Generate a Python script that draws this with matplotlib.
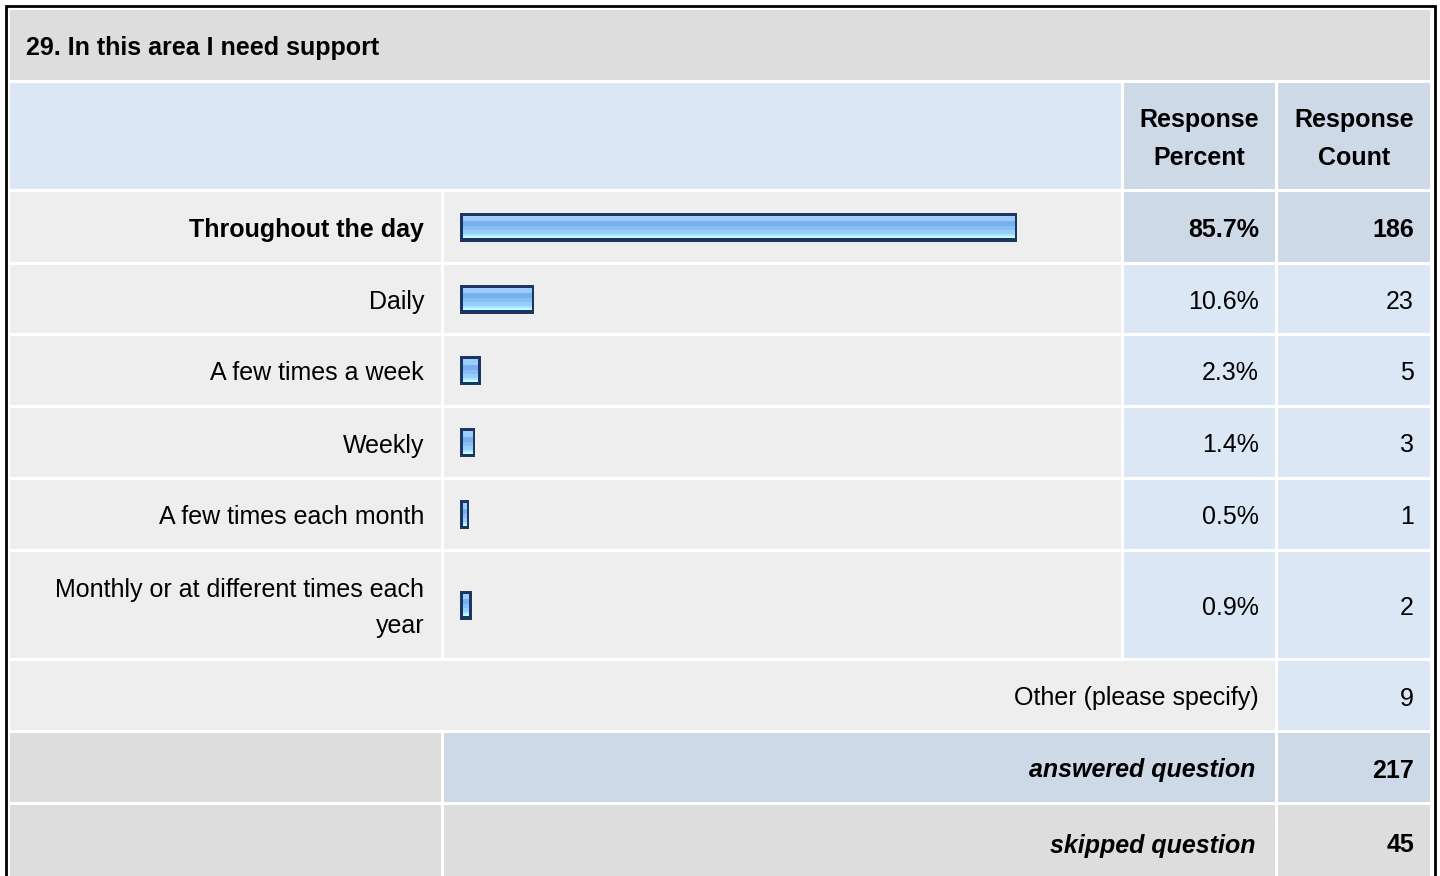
import numpy as np
import matplotlib.pyplot as plt
from matplotlib.patches import Rectangle
from matplotlib.colors import to_rgb

plt.rcParams['font.family'] = ['Liberation Sans', 'DejaVu Sans']

title = "29. In this area I need support"
options = ["Throughout the day", "Daily", "A few times a week", "Weekly",
           "A few times each month", "Monthly or at different times each\nyear"]
percents = [85.7, 10.6, 2.3, 1.4, 0.5, 0.9]
counts = [186, 23, 5, 3, 1, 2]
other_label = "Other (please specify)"
other_count = 9
answered = 217
skipped = 45

# table geometry in pixels
W, H = 1440, 876
cols = [(10, 441), (444, 1121), (1124, 1275), (1278, 1430)]
title_row = (10, 80)
head_row = (83, 189)
option_rows = [(192, 262), (265, 333), (336, 405), (408, 477), (480, 549), (552, 658)]
other_row = (661, 730)
answered_row = (733, 802)
skipped_row = (805, 880)

GREY = '#dddddd'
LIGHT = '#eeeeee'
PALE_BLUE = '#dce7f5'
DARK_BLUE = '#cdd9e6'
NAVY = '#1c3560'
FS = 18

fig = plt.figure(figsize=(W / 100, H / 100), dpi=100)
ax = fig.add_axes([0, 0, 1, 1])
ax.set_xlim(0, W)
ax.set_ylim(H, 0)
ax.axis('off')


def cell(x0, x1, rows, color):
    y0, y1 = rows
    ax.add_patch(Rectangle((x0, y0), x1 - x0, y1 - y0, facecolor=color,
                           edgecolor='none', zorder=1))


def label(x, rows, text, ha='right', pitch=37, **kw):
    lines = text.split('\n')
    mid = (rows[0] + rows[1]) / 2
    base = mid + 10 - pitch * (len(lines) - 1) / 2
    for i, line in enumerate(lines):
        ax.text(x, base + i * pitch, line, ha=ha, va='baseline',
                fontsize=FS, color='black', zorder=5, **kw)


# outer frame
ax.add_patch(Rectangle((5.5, 6), W - 11, H + 10, facecolor='white',
                       edgecolor='black', linewidth=2.0, zorder=0))

# title and header
cell(cols[0][0], cols[3][1], title_row, GREY)
label(26, title_row, title, ha='left', fontweight='bold')
cell(cols[0][0], cols[1][1], head_row, PALE_BLUE)
cell(*cols[2], head_row, DARK_BLUE)
cell(*cols[3], head_row, DARK_BLUE)
label((cols[2][0] + cols[2][1]) / 2, head_row, "Response\nPercent",
      ha='center', pitch=38, fontweight='bold')
label((cols[3][0] + cols[3][1]) / 2, head_row, "Response\nCount",
      ha='center', pitch=38, fontweight='bold')

# answer rows
top = int(np.argmax(percents))
for i, (opt, pct, cnt, rows) in enumerate(zip(options, percents, counts, option_rows)):
    weight = 'bold' if i == top else 'normal'
    shade = DARK_BLUE if i == top else PALE_BLUE
    cell(*cols[0], rows, LIGHT)
    cell(*cols[1], rows, LIGHT)
    cell(*cols[2], rows, shade)
    cell(*cols[3], rows, shade)
    label(cols[0][1] - 17, rows, opt, fontweight=weight)
    label(cols[2][1] - 16, rows, f"{pct:.1f}%", fontweight=weight)
    label(cols[3][1] - 16, rows, str(cnt), fontweight=weight)

cell(cols[0][0], cols[2][1], other_row, LIGHT)
cell(*cols[3], other_row, PALE_BLUE)
label(cols[2][1] - 16, other_row, other_label)
label(cols[3][1] - 16, other_row, str(other_count))

cell(*cols[0], answered_row, GREY)
cell(cols[1][0], cols[2][1], answered_row, DARK_BLUE)
cell(*cols[3], answered_row, DARK_BLUE)
label(cols[2][1] - 20, answered_row, "answered question",
      fontweight='bold', fontstyle='italic')
label(cols[3][1] - 16, answered_row, str(answered), fontweight='bold')

cell(*cols[0], skipped_row, GREY)
cell(cols[1][0], cols[2][1], skipped_row, GREY)
cell(*cols[3], skipped_row, GREY)
label(cols[2][1] - 20, skipped_row, "skipped question",
      fontweight='bold', fontstyle='italic')
label(cols[3][1] - 16, skipped_row, str(skipped), fontweight='bold')

# percentage bars, 100% = 643 px; the 3 px frame sits outside the value
bax = fig.add_axes([463 / W, 0, 643 / W, 1])
bax.axis('off')
centers = [(a + b) / 2 for a, b in option_rows]
bar_h = 23
bars = bax.barh(centers, percents, height=bar_h, color=NAVY,
                edgecolor=NAVY, linewidth=4.3, zorder=2, clip_on=False)
stripes = ['#9cccfc', '#9cccfc', '#9cccfc', '#78b0ee', '#78b0ee', '#78b0ee',
           '#88c0f6', '#88c0f6', '#98ccfc', '#98ccfc', '#aae6ff', '#bbffff']
grad = np.array([to_rgb(c) for c in stripes])[:, None, :]
for bar, yc, pct in zip(bars, centers, percents):
    im = bax.imshow(grad, extent=(0, pct, yc + bar_h / 2, yc - bar_h / 2),
                    aspect='auto', interpolation='nearest', zorder=3)
    im.set_clip_path(bar)
bax.set_xlim(0, 100)
bax.set_ylim(H, 0)

fig.savefig('out.png', dpi=100)
